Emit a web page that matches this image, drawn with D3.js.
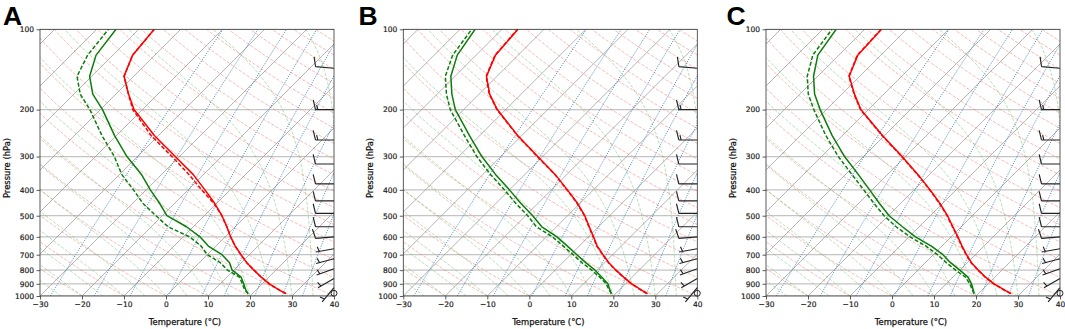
<!DOCTYPE html>
<html><head><meta charset="utf-8">
<script src="https://cdn.jsdelivr.net/npm/d3@7"></script>
<style>
body{margin:0;background:#fff;}
svg{display:block;font-family:"DejaVu Sans",sans-serif;}
</style></head><body>
<svg id="chart" width="1065" height="329"></svg>
<script>
// ---------------- data ----------------
const panelLabels = ["A", "B", "C"];
const pressureLevels = [980, 950, 925, 900, 850, 800, 750, 700, 650, 600, 550, 500, 450, 400, 350, 300, 250, 200, 175, 150, 125, 100];

const tempA     = [28.0, 25.6, 23.6, 21.7, 18.2, 14.8, 11.3, 8.0, 4.6, 1.3, -2.0, -5.8, -10.4, -16.0, -22.5, -31.0, -41.0, -52.0, -57.0, -62.3, -65.3, -66.3];
const tempDashA = [28.0, 25.6, 23.6, 21.7, 18.2, 14.8, 11.3, 8.0, 4.6, 1.3, -2.0, -5.8, -10.6, -16.8, -23.5, -31.8, -41.8, -52.3, -57.0, -62.3, -65.3, -66.3];
const dewA      = [19.0, 17.6, 16.6, 15.6, 13.4, 9.6, 7.2, 3.5, -1.8, -6.0, -11.6, -18.9, -23.5, -29.0, -34.8, -42.5, -50.5, -59.5, -65.5, -70.5, -74.0, -75.4];
const dewDashA  = [19.0, 17.4, 16.3, 15.3, 13.0, 8.5, 5.0, 0.0, -3.5, -8.5, -16.0, -21.5, -27.5, -33.0, -39.5, -45.5, -53.5, -62.5, -68.5, -73.5, -76.0, -77.2];

const tempB     = [27.6, 25.3, 23.4, 21.5, 18.0, 14.5, 11.0, 7.7, 4.3, 1.2, -2.2, -5.9, -10.5, -16.2, -22.8, -31.2, -41.0, -52.0, -57.5, -62.5, -65.4, -66.2];
const tempDashB = [27.4, 25.2, 23.3, 21.4, 17.9, 14.4, 10.9, 7.6, 4.2, 1.1, -2.3, -6.0, -10.6, -16.3, -22.9, -31.3, -41.1, -52.1, -57.6, -62.6, -65.5, -66.3];
const dewB      = [19.0, 17.8, 16.8, 15.8, 12.8, 9.5, 5.5, 1.5, -2.8, -7.5, -13.5, -18.3, -24.0, -30.0, -37.0, -44.5, -52.5, -62.0, -66.5, -71.0, -74.5, -76.4];
const dewDashB  = [19.0, 17.6, 16.5, 15.4, 12.3, 8.7, 4.6, 0.6, -3.8, -8.6, -14.8, -19.5, -25.2, -31.2, -38.2, -45.7, -53.7, -63.2, -67.8, -72.3, -75.6, -77.2];

const tempC     = [27.8, 25.4, 23.4, 21.4, 17.8, 14.4, 11.0, 7.9, 4.8, 1.6, -2.0, -5.9, -10.6, -16.2, -22.8, -30.8, -40.5, -51.8, -57.0, -62.5, -65.5, -66.0];
const tempDashC = [27.7, 25.3, 23.3, 21.3, 17.7, 14.3, 10.9, 7.8, 4.7, 1.5, -2.1, -6.0, -10.7, -16.3, -22.9, -30.9, -40.6, -51.9, -57.1, -62.6, -65.6, -66.1];
const dewC      = [19.0, 17.9, 17.0, 16.0, 13.6, 10.0, 6.0, 2.3, -2.5, -8.5, -14.0, -19.8, -25.0, -30.6, -37.0, -44.5, -52.5, -61.5, -66.5, -71.0, -75.0, -76.8];
const dewDashC  = [19.0, 17.7, 16.7, 15.6, 13.0, 9.0, 5.0, 1.0, -3.8, -9.8, -15.5, -21.0, -26.3, -32.0, -38.5, -46.0, -54.0, -63.0, -68.0, -72.5, -76.2, -77.8];

const windPressure  = [140, 200, 260, 320, 380, 440, 490, 550, 600, 665, 725, 790, 860, 930, 977];
const windSpeedKt   = [10, 15, 15, 10, 10, 10, 10, 10, 10, 5, 5, 5, 5, 5, 0];
const windDirection = [275, 270, 270, 270, 270, 270, 270, 270, 265, 260, 255, 250, 240, 220, 0];

const pressureTicks = [100, 200, 300, 400, 500, 600, 700, 800, 900, 1000];
const tempTicks = [-30, -20, -10, 0, 10, 20, 30, 40];
const isothermValues = [-120, -110, -100, -90, -80, -70, -60, -50, -40, -30, -20, -10, 0, 10, 20, 30, 40];
const dryAdiabatT0 = [-40, -30, -20, -10, 0, 10, 20, 30, 40, 50, 60, 70, 80, 90, 100, 110, 120, 130, 140, 150, 160, 170, 180, 190, 200, 210];
const moistAdiabatT0 = [-30, -25, -20, -15, -10, -5, 0, 5, 10, 15, 20, 25, 30, 35, 40, 45];
const mixingRatios = [0.0004, 0.001, 0.002, 0.004, 0.007, 0.01, 0.016, 0.024, 0.032];

const panels = [
  {label: panelLabels[0], t: tempA, td: tempDashA, d: dewA, dd: dewDashA},
  {label: panelLabels[1], t: tempB, td: tempDashB, d: dewB, dd: dewDashB},
  {label: panelLabels[2], t: tempC, td: tempDashC, d: dewC, dd: dewDashC}
];

// ---------------- physics helpers ----------------
const Rd = 287.04, Cp = 1005.7, Lv = 2.501e6, EPS = 0.622;
function satVap(Tc) { return 6.112 * Math.exp(17.67 * Tc / (Tc + 243.5)); }
function dTdp(p, T) {
  const es = satVap(T - 273.15);
  const rs = EPS * es / (p - es);
  return (Rd * T + Lv * rs) / p / (Cp + Lv * Lv * rs * EPS / (Rd * T * T));
}
const profileP = d3.range(1000, 99, -5);
function dryAdiabat(T0) {
  return profileP.map(p => [(T0 + 273.15) * Math.pow(p / 1000, Rd / Cp) - 273.15, p]);
}
function moistAdiabat(T0) {
  const pts = [[T0, 1000]];
  let T = T0 + 273.15, p = 1000; const dp = -5;
  while (p > 100) {
    const k1 = dTdp(p, T), k2 = dTdp(p + dp / 2, T + k1 * dp / 2),
          k3 = dTdp(p + dp / 2, T + k2 * dp / 2), k4 = dTdp(p + dp, T + k3 * dp);
    T += dp * (k1 + 2 * k2 + 2 * k3 + k4) / 6; p += dp;
    pts.push([T - 273.15, p]);
  }
  return pts;
}
function mixingLine(w) {
  return profileP.map(p => {
    const e = w * p / (EPS + w), l = Math.log(e / 6.112);
    return [243.5 * l / (17.67 - l), p];
  });
}

// ---------------- drawing ----------------
const svg = d3.select('#chart');
const W = 294, TOP = 29.3, BOTTOM = 296;
const panelLefts = [40, 403.3, 766];
const labelXs = [3, 358.5, 726.5];
const SKEW = Math.tan(45 * Math.PI / 180);
const fmtT = d => d < 0 ? '\u2212' + Math.abs(d) : String(d);

panels.forEach((pd, i) => {
  const left = panelLefts[i], right = left + W;
  const x = d3.scaleLinear().domain([-30, 40]).range([left, right]);
  const y = d3.scaleLog().domain([1000, 100]).range([BOTTOM, TOP]);
  const px = (T, p) => x(T) + (BOTTOM - y(p)) * SKEW;
  const line = d3.line().x(d => px(d[0], d[1])).y(d => y(d[1]));

  const clipId = 'clip' + i;
  svg.append('clipPath').attr('id', clipId).append('rect')
    .attr('x', left).attr('y', TOP).attr('width', W).attr('height', BOTTOM - TOP);
  const g = svg.append('g');
  const plot = g.append('g').attr('clip-path', `url(#${clipId})`);

  // horizontal pressure grid
  plot.selectAll('.hgrid').data(pressureTicks).join('line')
    .attr('x1', left).attr('x2', right).attr('y1', d => y(d)).attr('y2', d => y(d))
    .attr('stroke', '#c4c4c4').attr('stroke-width', 1.3);
  // isotherms
  plot.selectAll('.iso').data(isothermValues).join('path')
    .attr('d', T => line([[T, 1000], [T, 100]]))
    .attr('stroke', '#9c9c9c').attr('stroke-width', 0.75).attr('fill', 'none');
  // dry adiabats
  plot.selectAll('.dry').data(dryAdiabatT0).join('path')
    .attr('d', T0 => line(dryAdiabat(T0)))
    .attr('stroke', '#f07a6a').attr('stroke-opacity', 0.5).attr('stroke-width', 1)
    .attr('stroke-dasharray', '3.2,1.6').attr('fill', 'none');
  // moist adiabats
  plot.selectAll('.moist').data(moistAdiabatT0).join('path')
    .attr('d', T0 => line(moistAdiabat(T0)))
    .attr('stroke', '#62b862').attr('stroke-opacity', 0.45).attr('stroke-width', 1)
    .attr('stroke-dasharray', '3.2,1.6').attr('fill', 'none');
  // mixing ratio lines
  plot.selectAll('.mix').data(mixingRatios).join('path')
    .attr('d', w => line(mixingLine(w)))
    .attr('stroke', '#2f78bd').attr('stroke-opacity', 0.9).attr('stroke-width', 1)
    .attr('stroke-dasharray', '1,1.4').attr('fill', 'none');

  // profiles
  const prof = arr => pressureLevels.map((p, k) => [arr[k], p]);
  const profs = [
    {a: pd.td, c: '#ff0000', dash: '4,2'},
    {a: pd.dd, c: '#0a7d0a', dash: '4,2'},
    {a: pd.t, c: '#ff0000', dash: null},
    {a: pd.d, c: '#0a7d0a', dash: null}
  ];
  profs.forEach(o => {
    plot.append('path').attr('d', line(prof(o.a)))
      .attr('stroke', o.c).attr('stroke-width', 1.5).attr('fill', 'none')
      .attr('stroke-linejoin', 'round')
      .attr('stroke-dasharray', o.dash);
  });

  // wind barbs at right edge
  const L = 18.5, sp = 0.125 * L, fh = 0.52 * L, fw = 0.25 * L;
  windPressure.forEach((p, k) => {
    const cx = right, cy = y(p);
    const spd = Math.round(windSpeedKt[k] / 5) * 5;
    if (spd < 5) {
      g.append('circle').attr('cx', cx).attr('cy', cy).attr('r', 0.16 * L)
        .attr('fill', 'none').attr('stroke', '#222').attr('stroke-width', 1);
      return;
    }
    const rad = windDirection[k] * Math.PI / 180;
    const s = [Math.sin(rad), -Math.cos(rad)];
    const b = [Math.cos(rad), Math.sin(rad)];
    const pt = (o, h) => [cx + s[0] * o + b[0] * h, cy + s[1] * o + b[1] * h];
    let path = `M${cx},${cy}L${pt(L, 0)}`;
    let nb = Math.floor(spd / 10), half = (spd % 10) >= 5;
    let off = L;
    for (let n = 0; n < nb; n++) {
      path += `M${pt(off, 0)}L${pt(off + fw / 2, fh)}`;
      off -= sp;
    }
    if (half) {
      if (off === L) off -= 1.5 * sp;
      path += `M${pt(off, 0)}L${pt(off + fw / 4, fh / 2)}`;
    }
    g.append('path').attr('d', path).attr('stroke', '#222').attr('stroke-width', 1.15)
      .attr('fill', 'none').attr('stroke-linecap', 'butt');
  });

  // frame
  g.append('rect').attr('x', left).attr('y', TOP).attr('width', W).attr('height', BOTTOM - TOP)
    .attr('fill', 'none').attr('stroke', '#333').attr('stroke-width', 0.8);

  // axes
  const ya = g.append('g').attr('transform', `translate(${left},0)`)
    .call(d3.axisLeft(y).tickValues(pressureTicks).tickFormat(d3.format('d')).tickSize(3.5).tickPadding(2.5));
  const xa = g.append('g').attr('transform', `translate(0,${BOTTOM})`)
    .call(d3.axisBottom(x).tickValues(tempTicks).tickFormat(fmtT).tickSize(3.5).tickPadding(2.2));
  [ya, xa].forEach(a => {
    a.select('.domain').remove();
    a.selectAll('line').attr('stroke', '#333').attr('stroke-width', 0.8);
    a.selectAll('text').attr('font-size', 7.5).attr('fill', '#222')
      .attr('stroke', '#222').attr('stroke-width', 0.2)
      .attr('font-family', '"DejaVu Sans", sans-serif');
  });

  g.append('text').attr('x', left + W / 2 - 2).attr('y', 325)
    .attr('text-anchor', 'middle').attr('font-size', 8.4).attr('fill', '#111')
    .attr('stroke', '#111').attr('stroke-width', 0.25)
    .text('Temperature (\u00B0C)');
  g.append('text').attr('transform', `translate(${left - 30.5},168) rotate(-90)`)
    .attr('text-anchor', 'middle').attr('font-size', 8.4).attr('fill', '#111')
    .attr('stroke', '#111').attr('stroke-width', 0.25)
    .text('Pressure (hPa)');
  g.append('text').attr('x', labelXs[i]).attr('y', 24.5)
    .attr('font-family', '"Liberation Sans", Arial, sans-serif').attr('font-weight', 'bold')
    .attr('font-size', 26.5).attr('fill', '#000').text(pd.label);
});
</script>
</body></html>
